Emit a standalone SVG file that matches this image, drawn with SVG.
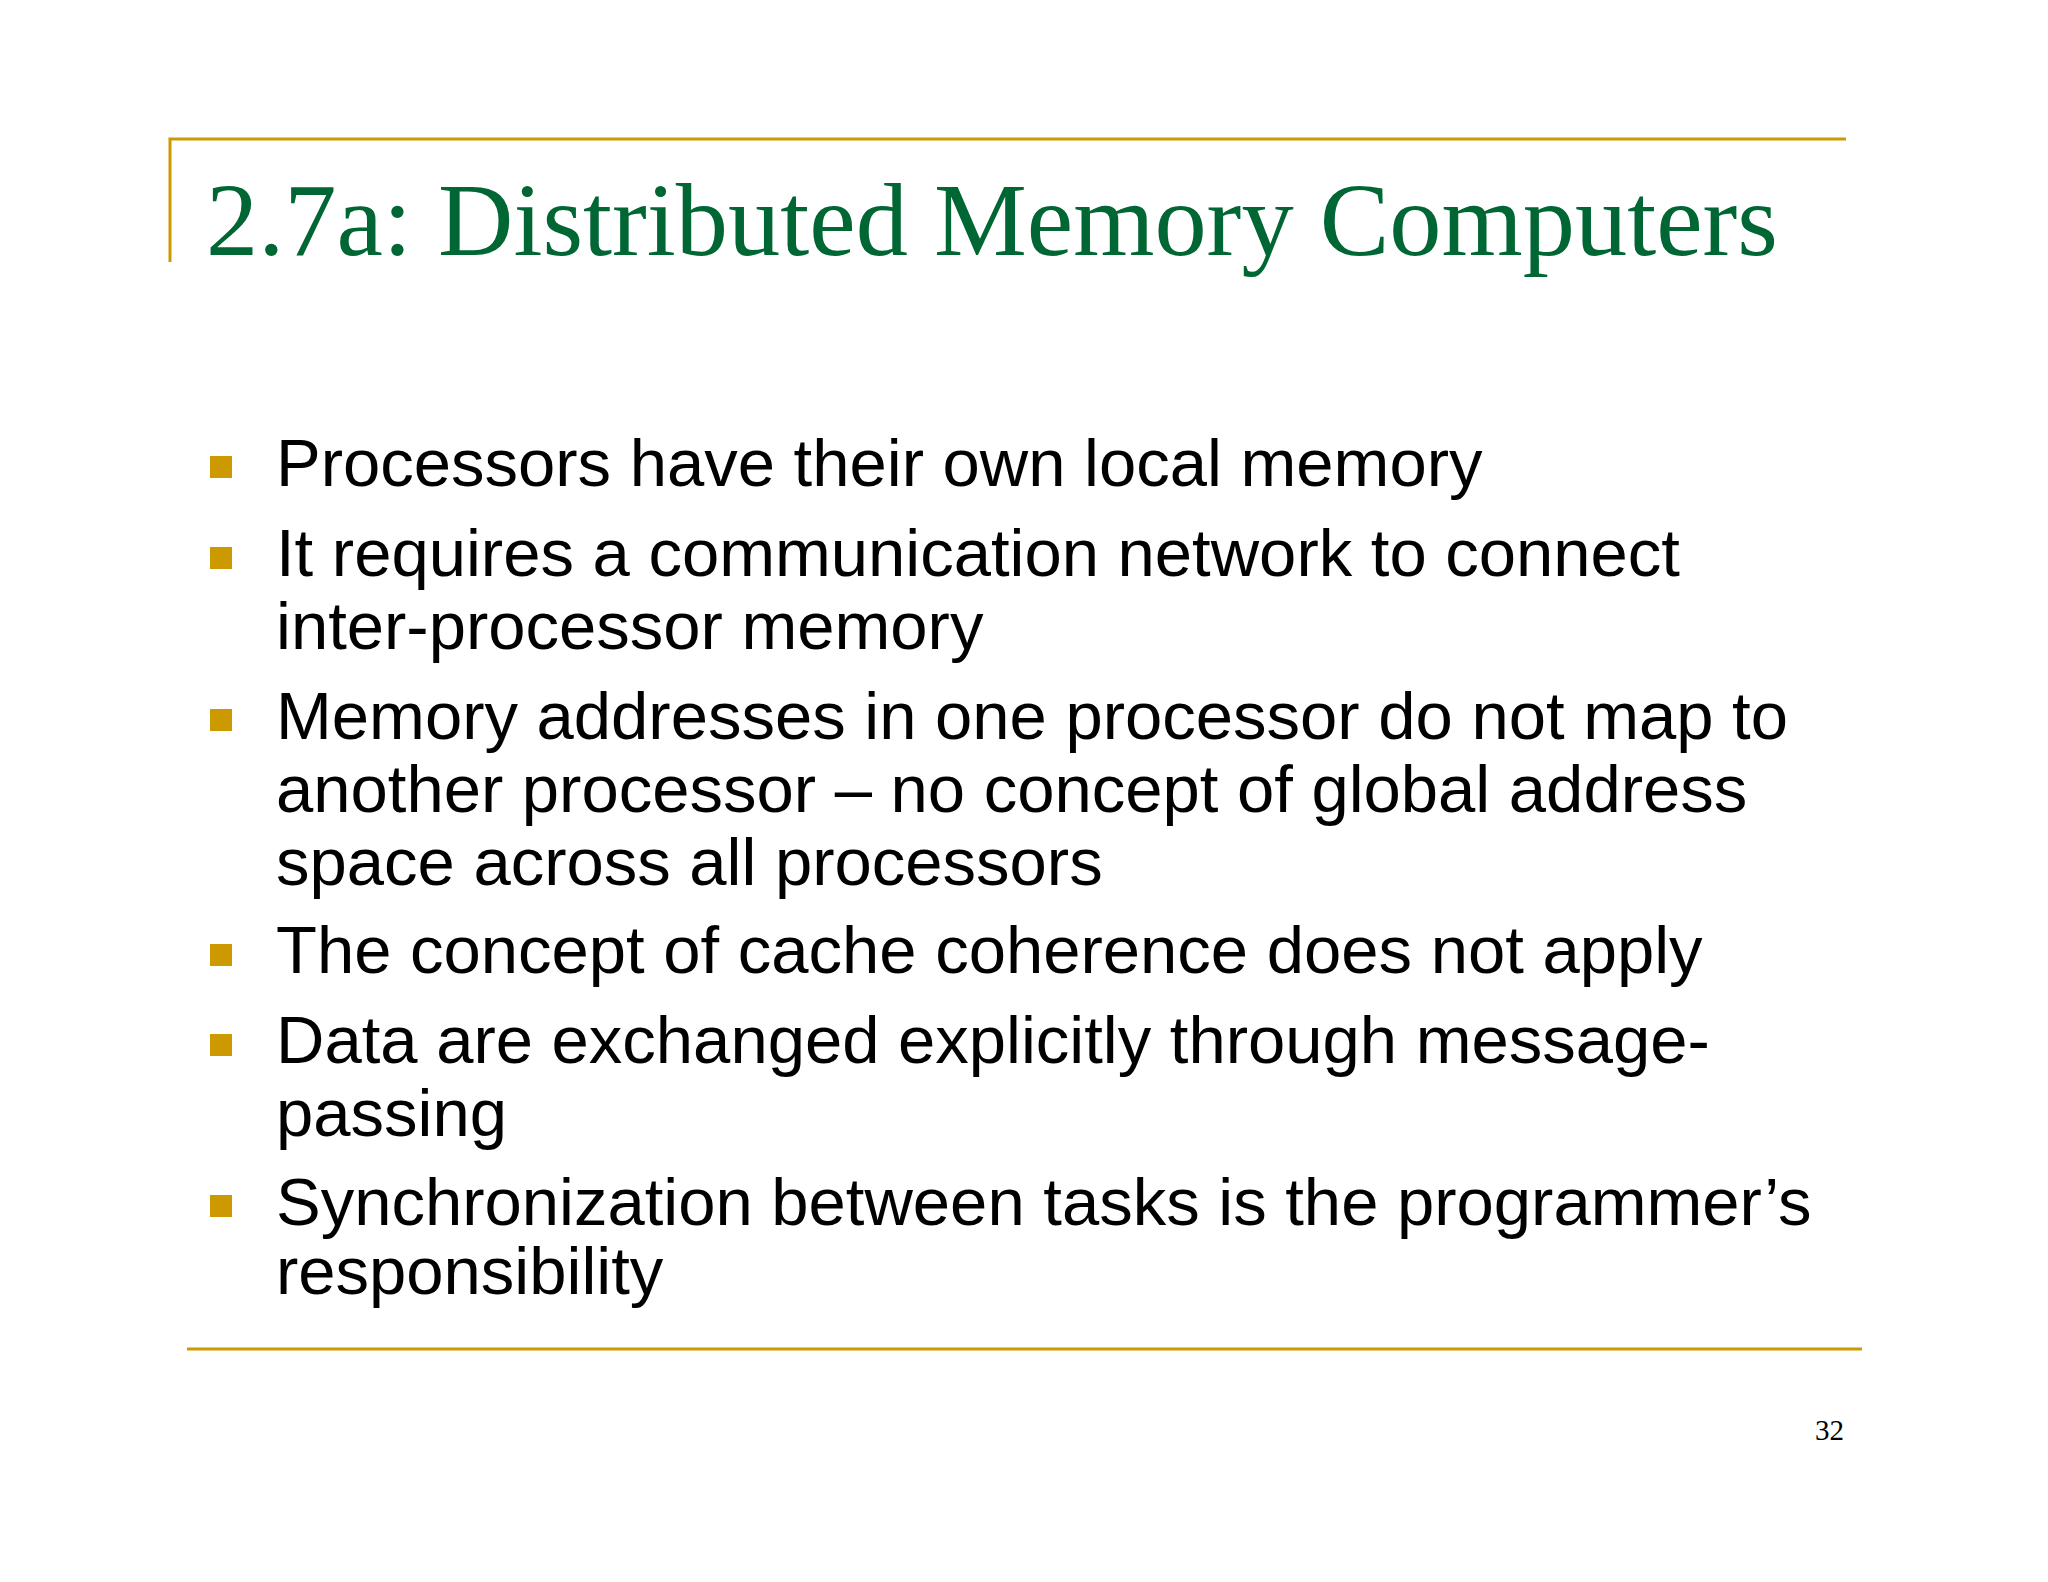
<svg xmlns="http://www.w3.org/2000/svg" width="2048" height="1582" viewBox="0 0 2048 1582">
<style>
.b{font-family:"Liberation Sans",Arial,sans-serif;font-size:67px;fill:#000}
.sq{fill:#CC9900}
.ln{stroke:#CC9900;stroke-width:3;fill:none}
</style>
<rect width="2048" height="1582" fill="#fff"/>
<g id="frame">
<path class="ln" d="M170 262V139H1846"/>
<path class="ln" d="M187 1349H1862"/>
</g>
<g id="title"><text x="206" y="255" font-family="'Liberation Serif','Times New Roman',serif" font-size="104" fill="#006633" textLength="1572" lengthAdjust="spacingAndGlyphs">2.7a: Distributed Memory Computers</text></g>
<g id="bullets">
<rect class="sq" x="210" y="456" width="22" height="22"/>
<rect class="sq" x="210" y="547" width="22" height="22"/>
<rect class="sq" x="210" y="709" width="22" height="22"/>
<rect class="sq" x="210" y="944" width="22" height="22"/>
<rect class="sq" x="210" y="1034" width="22" height="22"/>
<rect class="sq" x="210" y="1195" width="22" height="22"/>
<text class="b" x="276" y="486">Processors have their own local memory</text>
<text class="b" x="276" y="576">It requires a communication network to connect</text>
<text class="b" x="276" y="649">inter-processor memory</text>
<text class="b" x="276" y="739">Memory addresses in one processor do not map to</text>
<text class="b" x="276" y="812">another processor – no concept of global address</text>
<text class="b" x="276" y="885">space across all processors</text>
<text class="b" x="276" y="973">The concept of cache coherence does not apply</text>
<text class="b" x="276" y="1063">Data are exchanged explicitly through message-</text>
<text class="b" x="276" y="1136">passing</text>
<text class="b" x="276" y="1225">Synchronization between tasks is the programmer’s</text>
<text class="b" x="276" y="1294">responsibility</text>
</g>
<g id="page"><text x="1815" y="1440" font-family="'Liberation Serif',serif" font-size="29" fill="#000">32</text></g>
</svg>
